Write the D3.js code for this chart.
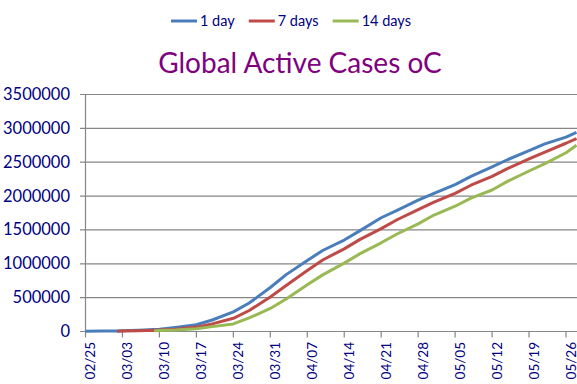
<!DOCTYPE html>
<html>
<head>
<meta charset="utf-8">
<script src="https://cdn.jsdelivr.net/npm/d3@7"></script>
<style>
  body { margin: 0; background: #fff; }
  text { font-family: Lato, "Open Sans", sans-serif; }
</style>
</head>
<body>
<svg id="graph"></svg>
<script>
var dates = ["02/25","02/28","03/02","03/03","03/06","03/09","03/10","03/13","03/17","03/20",
  "03/24","03/27","03/31","04/03","04/07","04/10","04/14","04/17","04/21","04/24",
  "04/28","05/01","05/05","05/08","05/12","05/15","05/19","05/22","05/26","05/28"];

var oneDay = [3000,6000,9000,11000,20000,30000,35000,60000,100000,170000,
  290000,420000,650000,840000,1050000,1200000,1350000,1490000,1680000,1790000,
  1940000,2040000,2170000,2290000,2430000,2540000,2670000,2770000,2870000,2940000];

var sevenDays = [null,null,5000,6000,11000,18000,21000,35000,65000,112000,
  195000,310000,510000,680000,900000,1060000,1220000,1360000,1520000,1650000,
  1800000,1910000,2040000,2160000,2290000,2410000,2550000,2650000,2780000,2850000];

var fourteenDays = [null,null,null,null,null,11000,13000,22000,42000,72000,
  112000,200000,340000,480000,690000,840000,1010000,1150000,1310000,1440000,
  1590000,1720000,1850000,1970000,2090000,2220000,2370000,2480000,2640000,2750000];

var xTicks = ["02/25","03/03","03/10","03/17","03/24","03/31","04/07","04/14",
  "04/21","04/28","05/05","05/12","05/19","05/26"];
var yTicks = [0,500000,1000000,1500000,2000000,2500000,3000000,3500000];

var series = [
  {name: "1 day", values: oneDay, color: "#4a7ebb"},
  {name: "7 days", values: sevenDays, color: "#be4b48"},
  {name: "14 days", values: fourteenDays, color: "#98b954"}
];

var W = 577, H = 384;
var svg = d3.select("#graph").attr("width", W).attr("height", H);

var parse = function(s) { return d3.timeParse("%Y/%m/%d")("2020/" + s); };

var x = d3.scaleTime()
  .domain([parse("02/25"), parse("05/26")])
  .range([85.5, 566]);
var y = d3.scaleLinear()
  .domain([0, 3500000])
  .range([331.5, 94.5]);

var axisCol = "#868686", textCol = "#000080";

// horizontal gridlines (with the little tick sticking out left)
svg.append("g").selectAll("line")
  .data(yTicks)
  .enter().append("line")
  .attr("x1", 80).attr("x2", W)
  .attr("y1", function(d) { return y(d); })
  .attr("y2", function(d) { return y(d); })
  .attr("stroke", axisCol).attr("stroke-width", 1.2);

// y labels
svg.append("g").selectAll("text")
  .data(yTicks)
  .enter().append("text")
  .attr("x", 70)
  .attr("y", function(d) { return y(d) + 5.5; })
  .attr("text-anchor", "end")
  .attr("font-size", 16.5)
  .attr("fill", textCol)
  .text(function(d) { return d; });

// y axis line
svg.append("line")
  .attr("x1", 85.5).attr("x2", 85.5)
  .attr("y1", y(3500000)).attr("y2", y(0))
  .attr("stroke", axisCol).attr("stroke-width", 1.2);

// x tick marks + rotated labels
var xg = svg.append("g");
xg.selectAll("line")
  .data(xTicks)
  .enter().append("line")
  .attr("x1", function(d) { return x(parse(d)); })
  .attr("x2", function(d) { return x(parse(d)); })
  .attr("y1", y(0)).attr("y2", y(0) + 6)
  .attr("stroke", axisCol).attr("stroke-width", 1.2);
xg.selectAll("text")
  .data(xTicks)
  .enter().append("text")
  .attr("transform", function(d) {
    return "translate(" + (x(parse(d)) + 9.5) + ",342) rotate(-90)";
  })
  .attr("text-anchor", "end")
  .attr("font-size", 13.5)
  .attr("fill", textCol)
  .text(function(d) { return d; });

// the lines
var line = d3.line()
  .defined(function(d) { return d.v != null; })
  .x(function(d) { return x(d.date); })
  .y(function(d) { return y(d.v); });

series.forEach(function(s) {
  var pts = dates.map(function(d, i) { return {date: parse(d), v: s.values[i]}; });
  svg.append("path")
    .datum(pts)
    .attr("d", line)
    .attr("fill", "none")
    .attr("stroke", s.color)
    .attr("stroke-width", 3)
    .attr("stroke-linejoin", "round");
});

// title
svg.append("text")
  .attr("x", 300).attr("y", 73)
  .attr("text-anchor", "middle")
  .attr("font-size", 28)
  .attr("fill", "#800080")
  .text("Global Active Cases oC");

// legend
var lx = 171;
series.forEach(function(s) {
  svg.append("line")
    .attr("x1", lx).attr("x2", lx + 26)
    .attr("y1", 21).attr("y2", 21)
    .attr("stroke", s.color).attr("stroke-width", 3);
  var t = svg.append("text")
    .attr("x", lx + 29).attr("y", 26)
    .attr("font-size", 14.5)
    .attr("fill", textCol)
    .text(s.name);
  lx += 29 + t.node().getComputedTextLength() + 14;
});
</script>
</body>
</html>
